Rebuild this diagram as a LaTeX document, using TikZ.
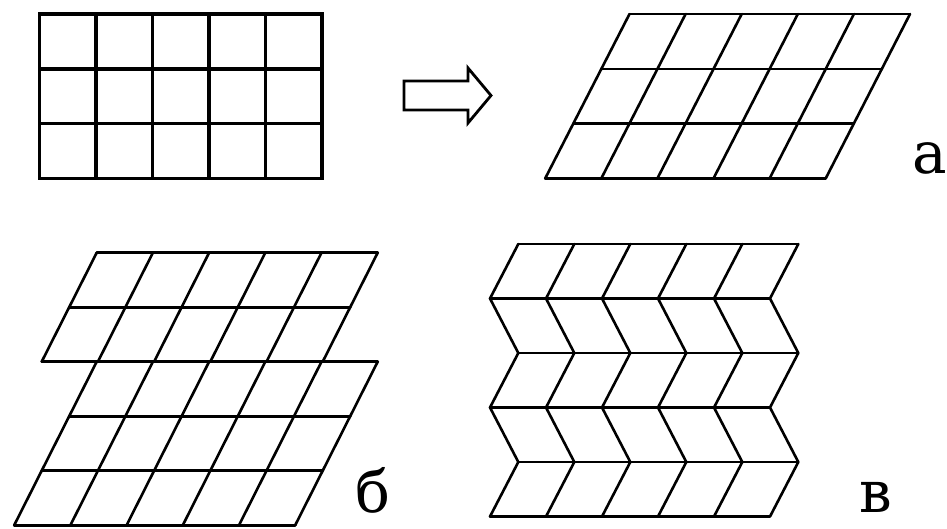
\documentclass[tikz,border=0pt]{standalone}
\usepackage{fontspec}
\newfontfamily\lblfont{DejaVu Serif}
\usetikzlibrary{positioning}

\begin{document}
\begin{tikzpicture}[x=1pt,y=-1pt,
    grid/.style={line width=2.6pt,line cap=round,line join=round},
    boldgrid/.style={line width=3.6pt,line cap=rect},
    bigarrow/.style={line width=2.8pt,line join=miter},
    lbl/.style={font=\lblfont\fontsize{58}{64}\selectfont,inner sep=0pt,anchor=base}]
  \useasboundingbox (0,0) rectangle (947,528);

  % square lattice
  \begin{scope}[shift={(39.5,14)}]
    \draw[boldgrid] (0,0) rectangle (282.5,164.4);
    \foreach \i in {1,...,4}
      \draw[boldgrid] (56.5*\i,0) -- (56.5*\i,164.4);
    \foreach \j in {1,2}
      \draw[boldgrid] (0,54.8*\j) -- (282.5,54.8*\j);
  \end{scope}

  % outline arrow
  \draw[bigarrow] (404,81) -- (468,81) -- (468,68) -- (491,95.5)
    -- (468,123) -- (468,110) -- (404,110) -- cycle;

  % (a) homogeneous shear
  \begin{scope}[shift={(629.5,14)}]
    \foreach \i in {0,...,5}
      \draw[grid] (56.1*\i,0) -- ({56.1*\i-84.3},164.4);
    \foreach \j in {0,...,3}
      \draw[grid] ({-28.1*\j},54.8*\j) -- ({280.5-28.1*\j},54.8*\j);
  \end{scope}
  \node[lbl] (La) at (930,173) {а};

  % (b) shear with a slip
  \begin{scope}[shift={(96.7,252.7)}]
    \foreach \i in {0,...,5} {
      \draw[grid] (56.2*\i,0) -- ({56.2*\i-55},109);
      \draw[grid] (56.2*\i,109) -- ({56.2*\i-82.5},272.5);
    }
    \draw[grid] (0,0) -- (281,0);
    \draw[grid] (-27.5,54.5) -- (253.5,54.5);
    \draw[grid] (-55,109) -- (281,109);
    \draw[grid] (-27.5,163.5) -- (253.5,163.5);
    \draw[grid] (-55,218) -- (226,218);
    \draw[grid] (-82.5,272.5) -- (198.5,272.5);
  \end{scope}
  \node[lbl] (Lb) at (373,512) {б};

  % (v) twinned (zigzag) lattice
  \begin{scope}[shift={(518.3,244)}]
    \foreach \j/\dx in {0/0,1/-28.3,2/0,3/-28.3,4/0,5/-28.3}
      \draw[grid] (\dx,54.5*\j) -- ({\dx+280},54.5*\j);
    \foreach \i in {0,...,5}
      \draw[grid] (56*\i,0) -- ({56*\i-28.3},54.5) -- (56*\i,109)
        -- ({56*\i-28.3},163.5) -- (56*\i,218) -- ({56*\i-28.3},272.5);
  \end{scope}
  \node[lbl] (Lv) at (876,512) {в};
\end{tikzpicture}
\end{document}
